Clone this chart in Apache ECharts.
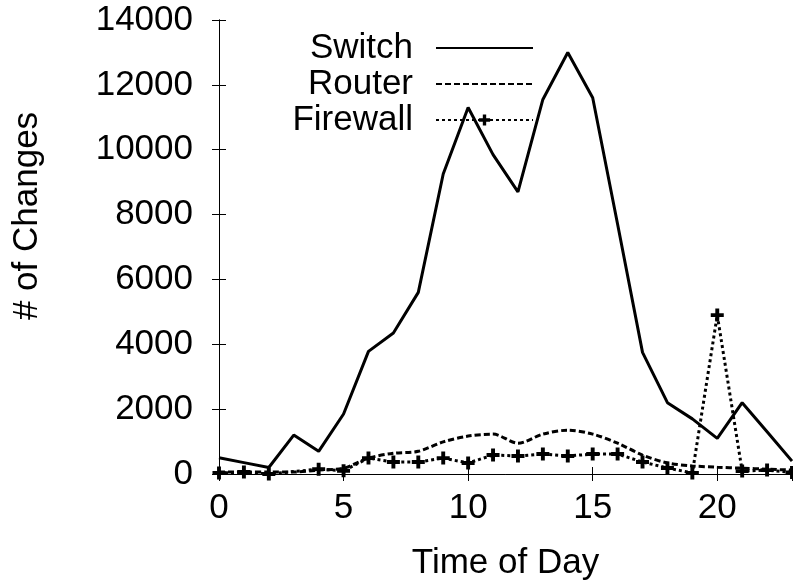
<!DOCTYPE html>
<html>
<head>
<meta charset="utf-8">
<script src="https://cdn.jsdelivr.net/npm/echarts@6/dist/echarts.min.js"></script>
<style>
  html, body { margin: 0; padding: 0; background: #fff; }
  #chart { width: 793px; height: 583px; }
</style>
</head>
<body>
<div id="chart"></div>
<script>
// hours of the day
const hours = [0, 1, 2, 3, 4, 5, 6, 7, 8, 9, 10, 11, 12, 13, 14, 15, 16, 17, 18, 19, 20, 21, 22, 23]
const switchChanges = [500, 350, 200, 1200, 700, 1850, 3780, 4350, 5600, 9250, 11300, 9850,
  8700, 11550, 13000, 11600, 7700, 3750, 2200, 1700, 1100, 2200, 1300, 400]
const routerChanges = [60, 60, 60, 60, 120, 180, 490, 640, 700, 990, 1170, 1230,
  950, 1230, 1350, 1230, 950, 585, 340, 250, 210, 180, 150, 120]
// the + at 3h is not visible in the picture
const firewallChanges = [30, 60, 0, null, 150, 100, 490, 370, 370, 490, 340, 585,
  555, 615, 555, 615, 615, 370, 185, 30, 4900, 90, 120, 50]
const xTicks = { min: 0, max: 23, interval: 5 }
const yTicks = { min: 0, max: 14000, interval: 2000 }

const plusPath = 'path://M3.5,0 H6.5 V3.5 H10 V6.5 H6.5 V10 H3.5 V6.5 H0 V3.5 H3.5 Z'
const font = 'Liberation Sans'
const fs = 35

let chart = echarts.init(document.getElementById('chart'))

function pairs (ys) {
  return hours.map((h, i) => [h, ys[i]])
}

chart.setOption({
  animation: false,
  textStyle: { fontFamily: font },
  grid: { left: 219, right: 1, top: 20, bottom: 109, outerBoundsMode: 'none' },
  legend: {
    orient: 'vertical',
    align: 'right',
    right: 254,
    top: 25,
    itemWidth: 97,
    itemHeight: 14,
    itemGap: 0,
    textStyle: { fontSize: fs, lineHeight: 36, color: '#000', fontFamily: font, padding: [0, 18, 0, 0] },
    data: [
      { name: 'Switch', itemStyle: { opacity: 0 } },
      { name: 'Router', itemStyle: { opacity: 0 } },
      { name: 'Firewall' }
    ]
  },
  xAxis: [
    {
      type: 'value',
      min: xTicks.min,
      max: xTicks.max,
      interval: xTicks.interval,
      name: 'Time of Day',
      nameLocation: 'middle',
      nameGap: 72,
      nameTextStyle: { fontSize: fs, color: '#000' },
      axisLine: { lineStyle: { color: '#000', width: 1 } },
      axisTick: { inside: true, length: 7, lineStyle: { color: '#000' } },
      axisLabel: { fontSize: fs, color: '#000', margin: 17, showMaxLabel: false },
      splitLine: { show: false }
    },
    {
      type: 'value',
      position: 'top',
      min: xTicks.min,
      max: xTicks.max,
      interval: xTicks.interval,
      axisLine: { lineStyle: { color: '#000', width: 1 } },
      axisTick: { inside: true, length: 7, lineStyle: { color: '#000' } },
      axisLabel: { show: false },
      splitLine: { show: false }
    }
  ],
  yAxis: [
    {
      type: 'value',
      min: yTicks.min,
      max: yTicks.max,
      interval: yTicks.interval,
      name: '# of Changes',
      nameLocation: 'middle',
      nameGap: 174,
      nameTextStyle: { fontSize: fs, color: '#000', padding: [0, 0, 0, 62] },
      axisLine: { show: true, lineStyle: { color: '#000', width: 1 } },
      axisTick: { show: true, inside: true, length: 7, lineStyle: { color: '#000' } },
      axisLabel: {
        fontSize: fs,
        color: '#000',
        margin: 26,
        formatter: function (value) {
          return String(value)
        }
      },
      splitLine: { show: false }
    },
    {
      type: 'value',
      position: 'right',
      min: yTicks.min,
      max: yTicks.max,
      interval: yTicks.interval,
      axisLine: { show: true, lineStyle: { color: '#000', width: 1 } },
      axisTick: { show: true, inside: true, length: 7, lineStyle: { color: '#000' } },
      axisLabel: { show: false },
      splitLine: { show: false }
    }
  ],
  series: [
    {
      name: 'Switch',
      type: 'line',
      data: pairs(switchChanges),
      symbol: 'none',
      color: '#000',
      lineStyle: { color: '#000', width: 3 }
    },
    {
      name: 'Router',
      type: 'line',
      data: pairs(routerChanges),
      symbol: 'none',
      smooth: 0.3,
      color: '#000',
      lineStyle: { color: '#000', width: 3, type: [6, 3] }
    },
    {
      name: 'Firewall',
      type: 'line',
      data: pairs(firewallChanges),
      connectNulls: true,
      symbol: plusPath,
      symbolSize: 13,
      showAllSymbol: true,
      color: '#000',
      itemStyle: { color: '#000', borderWidth: 0 },
      lineStyle: { color: '#000', width: 3, type: [3, 3] }
    }
  ]
})
</script>
</body>
</html>
